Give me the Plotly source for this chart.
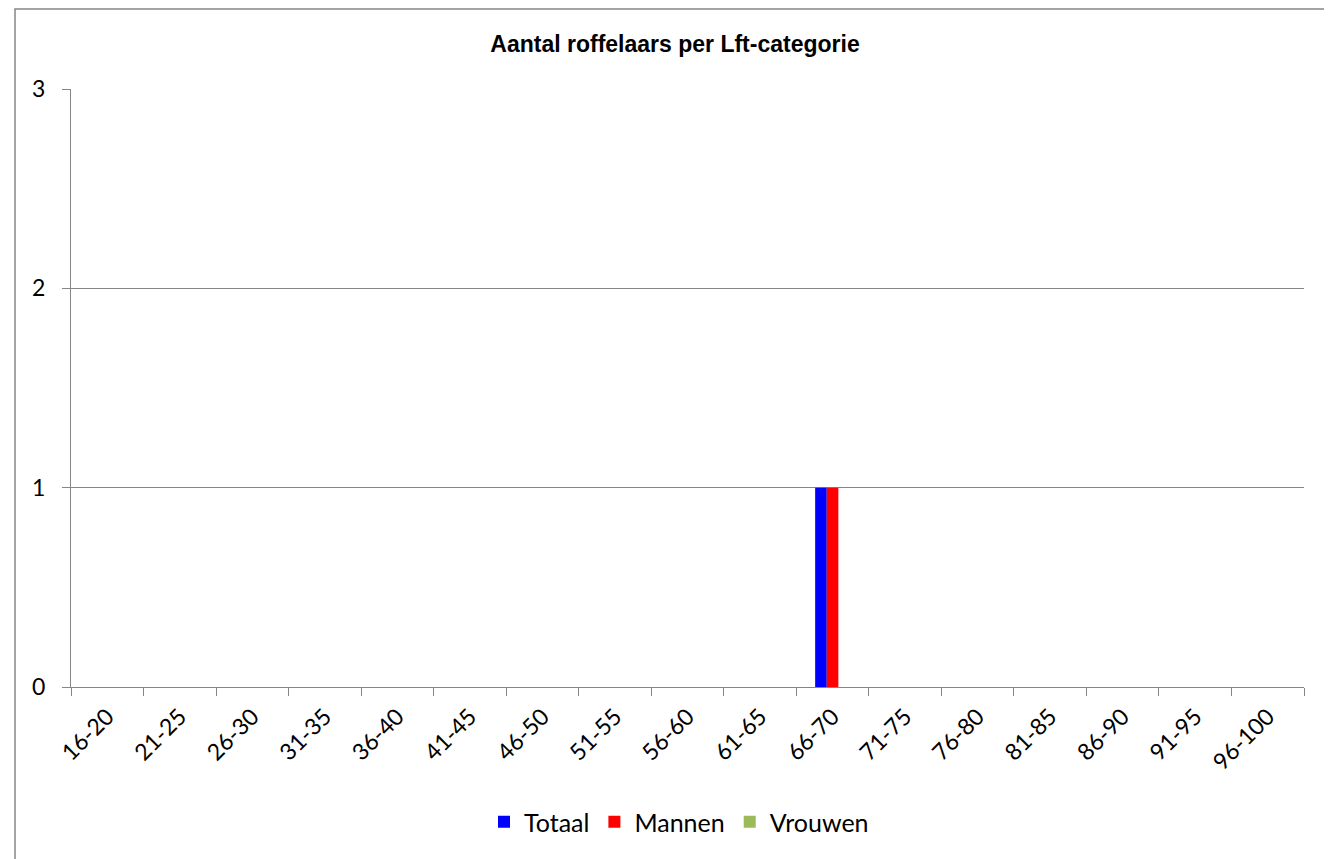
import plotly.graph_objects as go

categories = ["16-20", "21-25", "26-30", "31-35", "36-40", "41-45", "46-50", "51-55",
              "56-60", "61-65", "66-70", "71-75", "76-80", "81-85", "86-90", "91-95", "96-100"]
totaal = [0, 0, 0, 0, 0, 0, 0, 0, 0, 0, 1, 0, 0, 0, 0, 0, 0]
mannen = [0, 0, 0, 0, 0, 0, 0, 0, 0, 0, 1, 0, 0, 0, 0, 0, 0]
vrouwen = [0, 0, 0, 0, 0, 0, 0, 0, 0, 0, 0, 0, 0, 0, 0, 0, 0]

font_main = "Lato, 'Open Sans', sans-serif"

fig = go.Figure()
fig.add_trace(go.Bar(name="Totaal", x=categories, y=totaal, marker_color="#0000FF", marker_line_width=0))
fig.add_trace(go.Bar(name="Mannen", x=categories, y=mannen, marker_color="#FF0000", marker_line_width=0))
fig.add_trace(go.Bar(name="Vrouwen", x=categories, y=vrouwen, marker_color="#9BBB59", marker_line_width=0))

W, H = 1324, 851
L, R, T, B = 63, 28, 81, 172
pw, ph = W - L - R, H - T - B

fig.update_layout(
    width=W, height=H,
    margin=dict(l=L, r=R, t=T, b=B, autoexpand=False),
    paper_bgcolor="white", plot_bgcolor="white",
    barmode="group", bargap=0.52, bargroupgap=0,
    title=dict(text="<b>Aantal roffelaars per Lft-categorie</b>",
               x=667 / W, xref="container", xanchor="center",
               y=1 - 36 / H, yref="container", yanchor="middle",
               font=dict(family="'Liberation Sans', Arial, sans-serif", size=23, color="black")),
    font=dict(family=font_main, size=22, color="black"),
    showlegend=True,
    legend=dict(orientation="h", x=671 / W, xanchor="center", xref="container",
                y=1 - 814 / H, yref="container", yanchor="middle",
                font=dict(family=font_main, size=25, color="black"),
                itemwidth=30, traceorder="normal"),
    xaxis=dict(type="category", tickson="boundaries", ticks="outside", ticklen=8,
               tickcolor="#868686", showline=True, linecolor="#868686", linewidth=1,
               showgrid=False, tickangle=-45, tickfont=dict(family=font_main, size=23),
               zeroline=False, ticklabelstandoff=6),
    yaxis=dict(range=[0, 3], dtick=1, ticks="outside", ticklen=8, tickcolor="#868686",
               showline=True, linecolor="#868686", linewidth=1,
               showgrid=True, gridcolor="#868686", gridwidth=1, zeroline=False,
               tickfont=dict(family=font_main, size=23), ticklabelstandoff=12),
    shapes=[dict(type="rect", xref="paper", yref="paper",
                 x0=(7 - L) / pw, x1=(W + 20 - L) / pw,
                 y0=-(H + 20 - T - ph) / ph, y1=1 + (T - 1) / ph,
                 line=dict(color="#868686", width=1.5), fillcolor="rgba(0,0,0,0)", layer="above")],
)

fig.write_html("out.html")
